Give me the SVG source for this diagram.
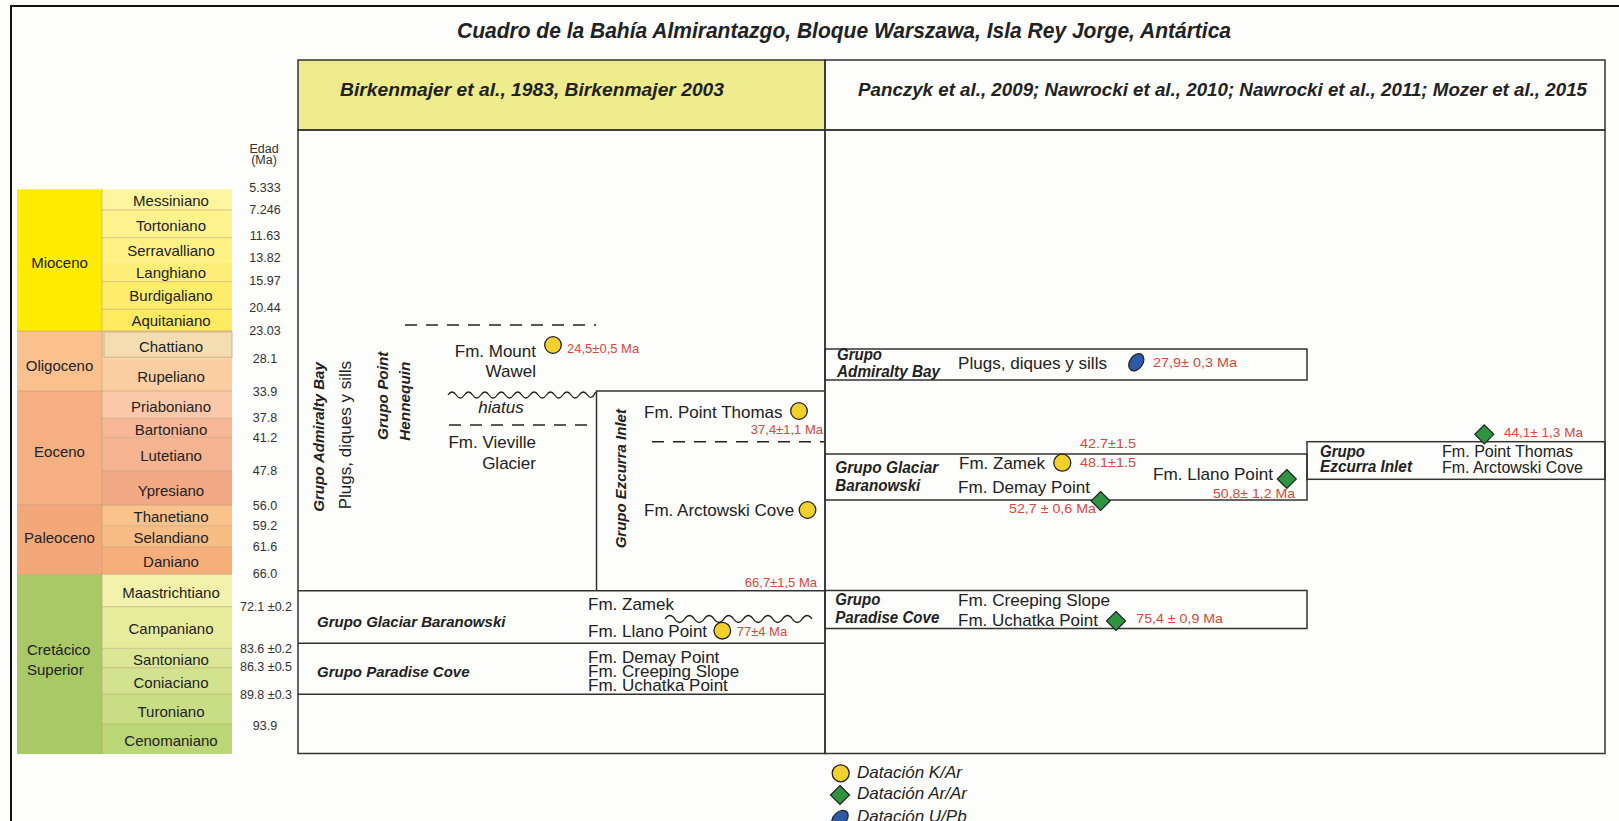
<svg xmlns="http://www.w3.org/2000/svg" width="1619" height="821" viewBox="0 0 1619 821">
<style>
.t{font-family:"Liberation Sans",Arial,sans-serif;fill:#222}
.st{font-size:15px;text-anchor:middle}
.ep{font-size:15px;text-anchor:middle}
.age{font-size:12.5px;text-anchor:middle;fill:#333}
.fm{font-size:17px}
.bi{font-weight:bold;font-style:italic}
.red{font-family:"Liberation Sans",Arial,sans-serif;fill:#D9483B;font-size:13px}
.box{fill:none;stroke:#333;stroke-width:1.5}
.ln{stroke:#333;stroke-width:1.5;fill:none}
.dash{stroke:#222;stroke-width:1.5;stroke-dasharray:12 9;fill:none}
.wave{stroke:#222;stroke-width:1.3;fill:none}
.sep{stroke:#b79a6e;stroke-opacity:0.55;stroke-width:1}
.kar{fill:#F3D02C;stroke:#222;stroke-width:1.3}
.arar{fill:#2E9440;stroke:#222;stroke-width:1.2}
.upb{fill:#2D5AA6;stroke:#222;stroke-width:1.2}
</style>
<defs>
<polygon id="dia" points="0,-9.5 9.5,0 0,9.5 -9.5,0"/>
</defs>
<rect x="0" y="0" width="1619" height="821" fill="#FDFDFB"/>
<g id="frame">
<path d="M11 821 V6 H1619" fill="none" stroke="#111" stroke-width="2"/>
</g>
<g id="title">
<text class="t bi" x="457" y="38" font-size="22" textLength="774" lengthAdjust="spacingAndGlyphs">Cuadro de la Bahía Almirantazgo, Bloque Warszawa, Isla Rey Jorge, Antártica</text>
</g>

<g id="timescale">
<rect x="17" y="189.3" width="85" height="141.7" fill="#FFEC00"/>
<rect x="17" y="331" width="85" height="60" fill="#FAC08E"/>
<rect x="17" y="391" width="85" height="114" fill="#F5AF82"/>
<rect x="17" y="505" width="85" height="69.3" fill="#F3A87A"/>
<rect x="17" y="574.3" width="85" height="179.7" fill="#A8C965"/>
<rect x="102" y="189.3" width="130" height="20.7" fill="#FFF59E"/>
<rect x="102" y="210" width="130" height="27.7" fill="#FFF38E"/>
<rect x="102" y="237.7" width="130" height="24" fill="#FFF183"/>
<rect x="102" y="261.7" width="130" height="20" fill="#FFEF78"/>
<rect x="102" y="281.7" width="130" height="27.6" fill="#FFED6C"/>
<rect x="102" y="309.3" width="130" height="21.7" fill="#FFEA60"/>
<rect x="102" y="331" width="130" height="27.3" fill="#FBCFA1"/>
<rect x="104" y="332" width="128" height="25.3" fill="#F3DDB1" stroke="#c9b58e" stroke-width="1"/>
<rect x="102" y="358.3" width="130" height="32.7" fill="#FBCFA1"/>
<rect x="102" y="391" width="130" height="27.3" fill="#FBC8A9"/>
<rect x="102" y="418.3" width="130" height="19" fill="#F8B898"/>
<rect x="102" y="437.3" width="130" height="33.4" fill="#F6B391"/>
<rect x="102" y="470.7" width="130" height="34.3" fill="#F3A886"/>
<rect x="102" y="505" width="130" height="20.7" fill="#F9C28B"/>
<rect x="102" y="525.7" width="130" height="21" fill="#F8BD84"/>
<rect x="102" y="546.7" width="130" height="27.6" fill="#F6AF7B"/>
<rect x="102" y="574.3" width="130" height="32.4" fill="#F2F2AD"/>
<rect x="102" y="606.7" width="130" height="41.6" fill="#E7EC9C"/>
<rect x="102" y="648.3" width="130" height="19.4" fill="#DBE697"/>
<rect x="102" y="667.7" width="130" height="26.6" fill="#D2E28E"/>
<rect x="102" y="694.3" width="130" height="29.7" fill="#C9DE84"/>
<rect x="102" y="724" width="130" height="30" fill="#BAD676"/>
<path class="sep" d="M102 189.3V754 M102 210H232 M102 237.7H232 M102 281.7H232 M102 309.3H232 M17 331H232 M102 391H232 M17 391H102 M102 418.3H232 M102 437.3H232 M102 470.7H232 M17 505H232 M102 525.7H232 M102 546.7H232 M17 574.3H232 M102 606.7H232 M102 648.3H232 M102 667.7H232 M102 694.3H232 M102 724H232"/>
<text class="t ep" x="59.5" y="268">Mioceno</text>
<text class="t ep" x="59.5" y="371">Oligoceno</text>
<text class="t ep" x="59.5" y="457">Eoceno</text>
<text class="t ep" x="59.5" y="543">Paleoceno</text>
<text class="t" font-size="15" x="27" y="654.5">Cretácico</text>
<text class="t" font-size="15" x="27" y="674.5">Superior</text>
<text class="t st" x="171" y="206">Messiniano</text>
<text class="t st" x="171" y="231">Tortoniano</text>
<text class="t st" x="171" y="255.5">Serravalliano</text>
<text class="t st" x="171" y="278">Langhiano</text>
<text class="t st" x="171" y="301">Burdigaliano</text>
<text class="t st" x="171" y="326">Aquitaniano</text>
<text class="t st" x="171" y="351.5">Chattiano</text>
<text class="t st" x="171" y="381.5">Rupeliano</text>
<text class="t st" x="171" y="411.5">Priaboniano</text>
<text class="t st" x="171" y="434.5">Bartoniano</text>
<text class="t st" x="171" y="460.5">Lutetiano</text>
<text class="t st" x="171" y="495.5">Ypresiano</text>
<text class="t st" x="171" y="522">Thanetiano</text>
<text class="t st" x="171" y="543">Selandiano</text>
<text class="t st" x="171" y="567">Daniano</text>
<text class="t st" x="171" y="598">Maastrichtiano</text>
<text class="t st" x="171" y="634">Campaniano</text>
<text class="t st" x="171" y="664.5">Santoniano</text>
<text class="t st" x="171" y="688">Coniaciano</text>
<text class="t st" x="171" y="717">Turoniano</text>
<text class="t st" x="171" y="745.5">Cenomaniano</text>
</g>

<g id="ages">
<text class="t age" font-size="11.5" x="264" y="152.7">Edad</text>
<text class="t age" font-size="11.5" x="264" y="164">(Ma)</text>
<text class="t age" x="265" y="191.8">5.333</text>
<text class="t age" x="265" y="213.5">7.246</text>
<text class="t age" x="265" y="239.5">11.63</text>
<text class="t age" x="265" y="262.2">13.82</text>
<text class="t age" x="265" y="284.5">15.97</text>
<text class="t age" x="265" y="312.2">20.44</text>
<text class="t age" x="265" y="335.2">23.03</text>
<text class="t age" x="265" y="362.8">28.1</text>
<text class="t age" x="265" y="395.5">33.9</text>
<text class="t age" x="265" y="421.8">37.8</text>
<text class="t age" x="265" y="441.8">41.2</text>
<text class="t age" x="265" y="475.2">47.8</text>
<text class="t age" x="265" y="510.2">56.0</text>
<text class="t age" x="265" y="529.5">59.2</text>
<text class="t age" x="265" y="551.2">61.6</text>
<text class="t age" x="265" y="577.8">66.0</text>
<text class="t age" x="266" y="611.2">72.1 ±0.2</text>
<text class="t age" x="266" y="652.8">83.6 ±0.2</text>
<text class="t age" x="266" y="671.2">86.3 ±0.5</text>
<text class="t age" x="266" y="698.5">89.8 ±0.3</text>
<text class="t age" x="265" y="729.5">93.9</text>
</g>

<g id="header-left">
<rect x="298" y="60" width="527" height="70" fill="#EDEB8C" stroke="#333" stroke-width="1.5"/>
<text class="t bi" x="340" y="95.5" font-size="19" textLength="384" lengthAdjust="spacingAndGlyphs">Birkenmajer et al., 1983, Birkenmajer 2003</text>
</g>
<g id="header-right">
<rect x="825" y="60" width="780" height="70" fill="none" stroke="#333" stroke-width="1.5"/>
<text class="t bi" x="858" y="95.5" font-size="19" textLength="729" lengthAdjust="spacingAndGlyphs">Panczyk et al., 2009; Nawrocki et al., 2010; Nawrocki et al., 2011; Mozer et al., 2015</text>
</g>

<g id="panel-left">
<rect class="box" x="298" y="130" width="527" height="623.5"/>
<text class="t bi" font-size="15" transform="translate(324,511.7) rotate(-90)">Grupo Admiralty Bay</text>
<text class="t" font-size="17" transform="translate(350.5,509.3) rotate(-90)">Plugs, diques y sills</text>
<text class="t bi" font-size="15.3" transform="translate(388,440) rotate(-90)">Grupo Point</text>
<text class="t bi" font-size="15.3" transform="translate(410,440.7) rotate(-90)">Hennequin</text>
</g>

<g id="fm-mount-wawel">
<text class="t fm" x="536" y="356.7" text-anchor="end">Fm. Mount</text>
<text class="t fm" x="536" y="377.3" text-anchor="end">Wawel</text>
<circle class="kar" cx="553" cy="345" r="8.3"/>
<text class="red" x="567" y="353.3">24,5±0,5 Ma</text>
</g>
<g id="hiatus">
<text class="t" font-size="17" font-style="italic" x="501" y="413.3" text-anchor="middle">hiatus</text>
</g>
<g id="fm-vieville">
<text class="t fm" x="536" y="448.3" text-anchor="end">Fm. Vieville</text>
<text class="t fm" x="536" y="469" text-anchor="end">Glacier</text>
</g>

<g id="grupo-ezcurra-left">
<path class="ln" d="M596.5 590.7 V391 H825"/>
<text class="t bi" font-size="15" transform="translate(626,548.3) rotate(-90)">Grupo Ezcurra Inlet</text>
<text class="t fm" x="644" y="418.3">Fm. Point Thomas</text>
<circle class="kar" cx="799" cy="411" r="8.3"/>
<text class="red" x="823" y="434.3" text-anchor="end">37,4±1,1 Ma</text>
<text class="t fm" x="644" y="515.7">Fm. Arctowski Cove</text>
<circle class="kar" cx="807.5" cy="510" r="8.3"/>
<text class="red" x="817" y="586.7" text-anchor="end">66,7±1,5 Ma</text>
</g>

<g id="grupo-baranowski-left">
<path class="ln" d="M298 590.7 H825"/>
<text class="t bi" font-size="15" x="317" y="626.7">Grupo Glaciar Baranowski</text>
<text class="t fm" x="588" y="610">Fm. Zamek</text>
<text class="t fm" x="588" y="637.3">Fm. Llano Point</text>
<circle class="kar" cx="722.3" cy="630.7" r="8.3"/>
<text class="red" font-size="14" x="736.7" y="636">77±4 Ma</text>
</g>
<g id="grupo-paradise-left">
<path class="ln" d="M298 643.3 H825 M298 694.3 H825"/>
<text class="t bi" font-size="15" x="317" y="676.7">Grupo Paradise Cove</text>
<text class="t fm" x="588" y="663.3">Fm. Demay Point</text>
<text class="t fm" x="588" y="677.3">Fm. Creeping Slope</text>
<text class="t fm" x="588" y="691">Fm. Uchatka  Point</text>
</g>

<g id="connectors">
<path class="dash" d="M405 325 H596"/>
<path class="dash" d="M449 425 H596"/>
<path class="dash" d="M652 441.7 H825"/>
<path class="wave" d="M448 395 q4.1 -6 8.2 0 t8.2 0 t8.2 0 t8.2 0 t8.2 0 t8.2 0 t8.2 0 t8.2 0 t8.2 0 t8.2 0 t8.2 0 t8.2 0 t8.2 0 t8.2 0 t8.2 0 t8.2 0 t8.2 0 t8.2 -3"/>
<path class="wave" d="M665 619 q4.9 -7 9.8 0 t9.8 0 t9.8 0 t9.8 0 t9.8 0 t9.8 0 t9.8 0 t9.8 0 t9.8 0 t9.8 0 t9.8 0 t9.8 0 t9.8 0 t9.8 0 t9.8 0"/>
</g>

<g id="panel-right">
<rect class="box" x="825" y="130" width="780" height="623.5"/>
</g>

<g id="grupo-admiralty-right">
<rect class="box" x="825" y="349" width="482" height="31"/>
<text class="t bi" font-size="16" x="837" y="360" textLength="45" lengthAdjust="spacingAndGlyphs">Grupo</text>
<text class="t bi" font-size="16" x="837" y="376.7" textLength="103" lengthAdjust="spacingAndGlyphs">Admiralty Bay</text>
<text class="t" font-size="17" x="958" y="369.3" textLength="149" lengthAdjust="spacingAndGlyphs">Plugs, diques y sills</text>
<ellipse class="upb" cx="1136.3" cy="362.3" rx="6.5" ry="9.5" transform="rotate(35 1136.3 362.3)"/>
<text class="red" font-size="14" x="1153" y="367.3" textLength="84" lengthAdjust="spacingAndGlyphs">27,9± 0,3 Ma</text>
</g>

<g id="grupo-baranowski-right">
<rect class="box" x="825" y="454" width="482" height="46"/>
<text class="t bi" font-size="16" x="835.3" y="473.3" textLength="103" lengthAdjust="spacingAndGlyphs">Grupo Glaciar</text>
<text class="t bi" font-size="16" x="835.3" y="490.7" textLength="85" lengthAdjust="spacingAndGlyphs">Baranowski</text>
<text class="t" font-size="17" x="959" y="469.3" textLength="86" lengthAdjust="spacingAndGlyphs">Fm. Zamek</text>
<circle class="kar" cx="1062.3" cy="462.7" r="8.5"/>
<text class="red" font-size="14.5" x="1080" y="448.3" textLength="56" lengthAdjust="spacingAndGlyphs">42.7±1.5</text>
<text class="red" font-size="14.5" x="1080" y="466.7" textLength="56" lengthAdjust="spacingAndGlyphs">48.1±1.5</text>
<text class="t" font-size="17" x="958" y="493.3" textLength="132" lengthAdjust="spacingAndGlyphs">Fm. Demay Point</text>
<use href="#dia" class="arar" x="1100.6" y="501"/>
<text class="red" font-size="14" x="1009" y="513.3" textLength="87" lengthAdjust="spacingAndGlyphs">52,7 ± 0,6 Ma</text>
<text class="t" font-size="17" x="1153" y="480" textLength="120" lengthAdjust="spacingAndGlyphs">Fm. Llano Point</text>
<use href="#dia" class="arar" x="1286.8" y="479"/>
<text class="red" font-size="14" x="1213" y="497.7" textLength="82" lengthAdjust="spacingAndGlyphs">50,8± 1,2 Ma</text>
</g>

<g id="grupo-ezcurra-right">
<rect class="box" x="1307" y="441.7" width="298" height="37.6"/>
<text class="t bi" font-size="16" x="1320" y="456.7" textLength="45" lengthAdjust="spacingAndGlyphs">Grupo</text>
<text class="t bi" font-size="16" x="1320" y="471.7" textLength="92" lengthAdjust="spacingAndGlyphs">Ezcurra Inlet</text>
<text class="t" font-size="16" x="1442" y="456.7" textLength="131" lengthAdjust="spacingAndGlyphs">Fm. Point Thomas</text>
<text class="t" font-size="16" x="1442" y="472.7" textLength="141" lengthAdjust="spacingAndGlyphs">Fm. Arctowski Cove</text>
<use href="#dia" class="arar" x="1484.3" y="434.3"/>
<text class="red" font-size="14" x="1504" y="436.7" textLength="79" lengthAdjust="spacingAndGlyphs">44,1± 1,3 Ma</text>
</g>

<g id="grupo-paradise-right">
<rect class="box" x="825" y="590.5" width="482" height="38"/>
<text class="t bi" font-size="16" x="835.3" y="605" textLength="45" lengthAdjust="spacingAndGlyphs">Grupo</text>
<text class="t bi" font-size="16" x="835.3" y="622.7" textLength="104" lengthAdjust="spacingAndGlyphs">Paradise Cove</text>
<text class="t" font-size="17" x="958" y="606" textLength="152" lengthAdjust="spacingAndGlyphs">Fm. Creeping Slope</text>
<text class="t" font-size="17" x="958" y="626" textLength="140" lengthAdjust="spacingAndGlyphs">Fm. Uchatka Point</text>
<use href="#dia" class="arar" x="1116" y="621"/>
<text class="red" font-size="14" x="1136.3" y="623.3" textLength="86.7" lengthAdjust="spacingAndGlyphs">75,4 ± 0,9 Ma</text>
</g>

<g id="legend">
<circle class="kar" cx="840.7" cy="773.3" r="8.5"/>
<text class="t" font-size="17" font-style="italic" x="857" y="777.7">Datación K/Ar</text>
<use href="#dia" class="arar" x="840" y="795"/>
<text class="t" font-size="17" font-style="italic" x="857" y="799.3">Datación Ar/Ar</text>
<ellipse class="upb" cx="840" cy="818.5" rx="6.5" ry="9.5" transform="rotate(45 840 818.5)"/>
<text class="t" font-size="17" font-style="italic" x="857" y="822">Datación U/Pb</text>
</g>
</svg>
